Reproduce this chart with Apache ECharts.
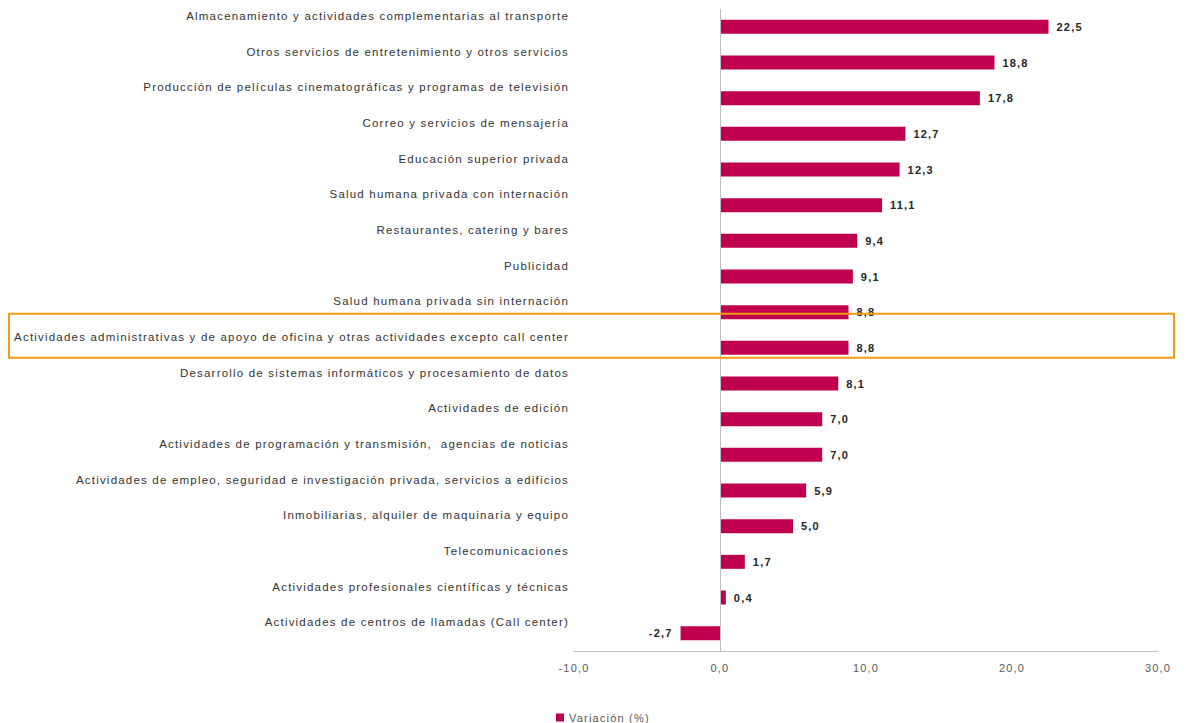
<!DOCTYPE html>
<html>
<head>
<meta charset="utf-8">
<script src="https://cdn.jsdelivr.net/npm/echarts@6/dist/echarts.min.js"></script>
<style>html,body{margin:0;padding:0;background:#fff}#c{width:1204px;height:723px}#c svg text{letter-spacing:1.2px}</style>
</head>
<body>
<div id="c"></div>
<script>
var categories = [
  "Almacenamiento y actividades complementarias al transporte",
  "Otros servicios de entretenimiento y otros servicios",
  "Producción de películas cinematográficas y programas de televisión",
  "Correo y servicios de mensajería",
  "Educación superior privada",
  "Salud humana privada con internación",
  "Restaurantes, catering y bares",
  "Publicidad",
  "Salud humana privada sin internación",
  "Actividades administrativas y de apoyo de oficina y otras actividades excepto call center",
  "Desarrollo de sistemas informáticos y procesamiento de datos",
  "Actividades de edición",
  "Actividades de programación y transmisión,  agencias de noticias",
  "Actividades de empleo, seguridad e investigación privada, servicios a edificios",
  "Inmobiliarias, alquiler de maquinaria y equipo",
  "Telecomunicaciones",
  "Actividades profesionales científicas y técnicas",
  "Actividades de centros de llamadas (Call center)"
];
var values = [22.5, 18.8, 17.8, 12.7, 12.3, 11.1, 9.4, 9.1, 8.8, 8.8, 8.1, 7.0, 7.0, 5.9, 5.0, 1.7, 0.4, -2.7];
var seriesName = "Variación (%)";
var highlighted = "Actividades administrativas y de apoyo de oficina y otras actividades excepto call center";
var xMin = -10, xMax = 30, xStep = 10;

function fmt(v){ return v.toFixed(1).replace('.', ','); }

var chart = echarts.init(document.getElementById('c'), null, {renderer:'svg'});
var font = 'Liberation Sans, Arial, sans-serif';
chart.setOption({
  animation: false,
  grid: {left: 574, right: 46, top: 9, bottom: 72, containLabel: false},
  legend: {
    data: [seriesName], left: 551, top: 707, itemWidth: 8, itemHeight: 8, itemGap: 4,
    icon: 'rect',
    textStyle: {color: '#595959', fontSize: 11, fontFamily: font}
  },
  xAxis: {
    type: 'value', min: xMin, max: xMax, interval: xStep,
    axisLine: {show: true, onZero: false, lineStyle: {color: '#bfbfbf', width: 1}},
    axisTick: {show: false},
    splitLine: {show: false},
    axisLabel: {color: '#595959', fontSize: 11, fontFamily: font, margin: 11, formatter: function(v){return fmt(v);}}
  },
  yAxis: {
    type: 'category', data: categories, inverse: true,
    axisLine: {show: false}, axisTick: {show: false},
    axisLabel: {color: '#333', fontSize: 11.5, fontFamily: font, margin: 5,
      verticalAlign: 'bottom', padding: [0, 0, 5, 0]}
  },
  series: [{
    name: seriesName, type: 'bar', data: values.map(function(v){
      return {value: v, label: {position: v < 0 ? 'left' : 'right'}};
    }),
    barWidth: 14,
    itemStyle: {color: '#c0004f'},
    label: {show: true, distance: 8, color: '#262626', fontSize: 11, fontWeight: 'bold', fontFamily: font,
      formatter: function(p){ return fmt(p.value); }},
    markLine: {
      silent: true, symbol: 'none', label: {show: false},
      lineStyle: {color: '#bfbfbf', type: 'solid', width: 1},
      data: [{xAxis: 0}]
    }
  }]
});

var idx = categories.indexOf(highlighted);
var cy = chart.convertToPixel({yAxisIndex: 0}, idx);
var xRight = chart.convertToPixel({xAxisIndex: 0}, xMax);
chart.setOption({
  graphic: [{
    type: 'rect', silent: true, z: 100,
    shape: {x: 9, y: cy - 34, width: xRight + 16 - 9, height: 44},
    style: {fill: 'none', stroke: '#f39c12', lineWidth: 2}
  }]
});
</script>
</body>
</html>
